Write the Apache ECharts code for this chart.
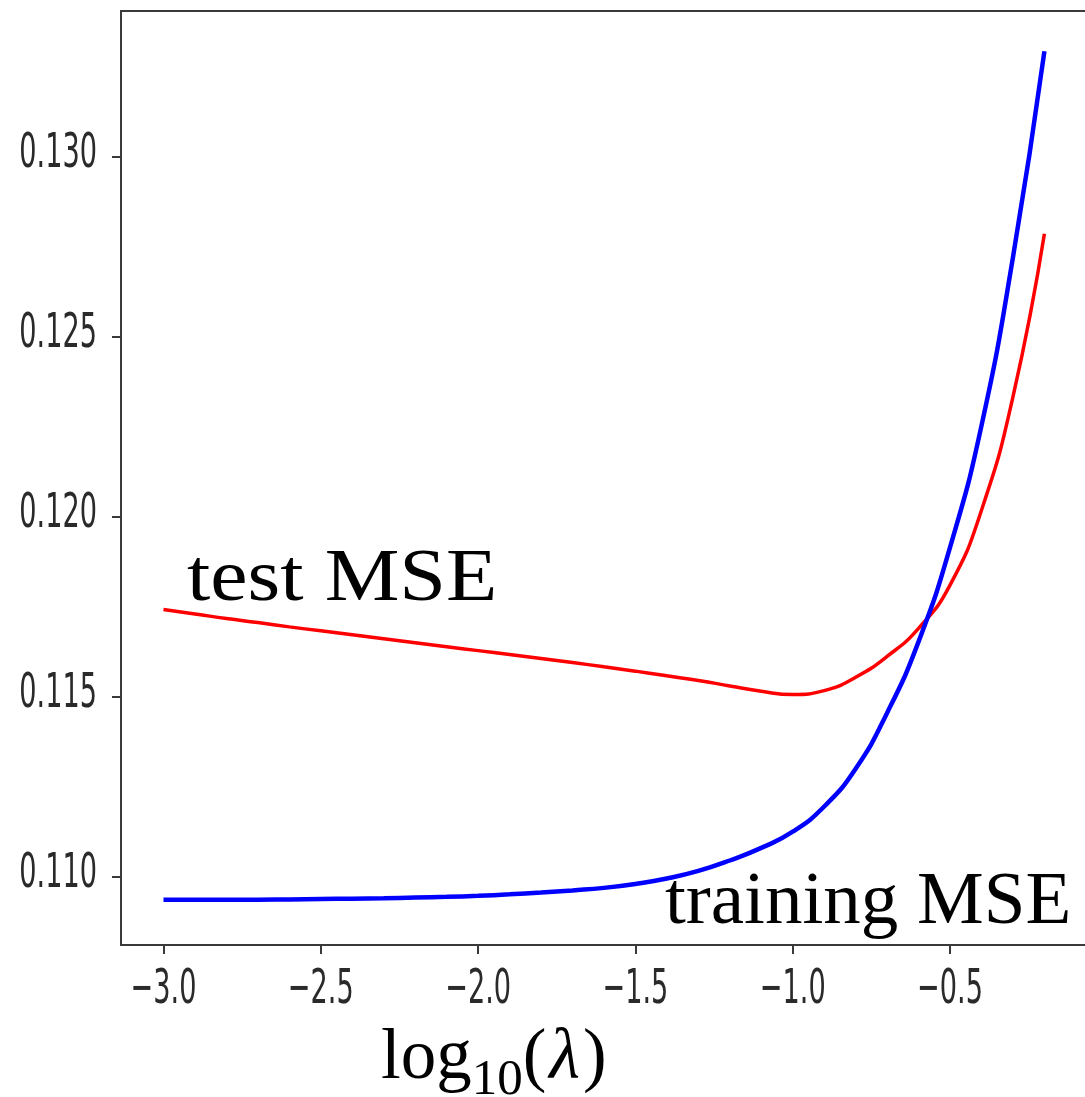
<!DOCTYPE html>
<html>
<head>
<meta charset="utf-8">
<title>Ridge regression: MSE vs regularisation strength</title>
<script src="https://cdn.jsdelivr.net/npm/echarts@6/dist/echarts.min.js"></script>
<style>
  html, body { margin: 0; padding: 0; background: #ffffff; }
  #chart { width: 1085px; height: 1097px; }
</style>
</head>
<body>
<div id="chart"></div>
<script>
// log10(lambda) sample positions
const logLambda = [-3.0, -2.9, -2.8, -2.7, -2.6, -2.5, -2.4, -2.3, -2.2, -2.1,
                   -2.0, -1.9, -1.8, -1.7, -1.6, -1.5, -1.4, -1.3, -1.2, -1.1,
                   -1.0, -0.9, -0.8, -0.7, -0.6, -0.5, -0.4, -0.3, -0.2];

// held-out error
const testMSE = [0.11742, 0.11730, 0.11717, 0.11706, 0.11694, 0.11683, 0.11672, 0.11661, 0.11650, 0.11639,
                 0.11628, 0.11617, 0.11606, 0.11595, 0.11583, 0.11571, 0.11558, 0.11545, 0.11530, 0.11515,
                 0.11506, 0.11517, 0.11554, 0.11612, 0.11690, 0.11810, 0.12018, 0.12333, 0.12786];

// in-sample error
const trainMSE = [0.10936, 0.10936, 0.10936, 0.10936, 0.10937, 0.10938, 0.10939, 0.10940, 0.10942, 0.10944,
                  0.10947, 0.10951, 0.10956, 0.10962, 0.10969, 0.10980, 0.10995, 0.11016, 0.11045, 0.11080,
                  0.11125, 0.11195, 0.11300, 0.11455, 0.11653, 0.11915, 0.12253, 0.12720, 0.13293];

// tick labels
const xTicks = [-3.0, -2.5, -2.0, -1.5, -1.0, -0.5];
const yTicks = [0.110, 0.115, 0.120, 0.125, 0.130];

const seriesNames = ['test MSE', 'training MSE'];

const X_MIN = -3.135, X_MAX = -0.071;
const Y_MIN = 0.108103, Y_MAX = 0.134047;

const pair = (xs, ys) => xs.map((x, i) => [x, ys[i]]);
const minus = s => s.replace('-', '\u2212');

const tickFont = "48px 'DejaVu Sans', sans-serif";
const tickSqueeze = 0.565;          // tick labels use a narrow, tall face
const serifFont = "'Liberation Serif', 'DejaVu Serif', serif";
const spine = '#3a3a3a';

const chart = echarts.init(document.getElementById('chart'), null, { renderer: 'canvas' });

const frameAxis = {
  splitLine: { show: false },
  axisLine: { show: true, onZero: false, lineStyle: { color: spine, width: 2 } }
};

chart.setOption({
  animation: false,
  backgroundColor: '#ffffff',
  grid: { left: 121, right: 0, top: 11, bottom: 152, containLabel: false, outerBoundsMode: 'none' },
  xAxis: [
    Object.assign({
      type: 'value', min: X_MIN, max: X_MAX,
      axisTick: { show: true, length: 9, lineStyle: { color: spine, width: 2 }, customValues: xTicks },
      axisLabel: { show: false }
    }, frameAxis),
    Object.assign({
      // top frame line
      type: 'value', position: 'top', min: X_MIN, max: X_MAX,
      axisTick: { show: false }, axisLabel: { show: false }
    }, frameAxis)
  ],
  yAxis: Object.assign({
    type: 'value', min: Y_MIN, max: Y_MAX,
    axisTick: { show: true, length: 9, lineStyle: { color: spine, width: 2 }, customValues: yTicks },
    axisLabel: { show: false }
  }, frameAxis),
  series: [
    {
      name: seriesNames[0], type: 'line', data: pair(logLambda, testMSE),
      smooth: 0.5, showSymbol: false,
      lineStyle: { color: '#ff0000', width: 3.5 }, z: 2
    },
    {
      name: seriesNames[1], type: 'line', data: pair(logLambda, trainMSE),
      smooth: 0.5, showSymbol: false,
      lineStyle: { color: '#0000ff', width: 4.5 }, z: 3
    }
  ]
});

// Tick labels: placed at the axis positions of each tick value, drawn narrow.
const toPx = (x, y) => chart.convertToPixel({ xAxisIndex: 0, yAxisIndex: 0 }, [x, y]);

const xLabelItems = xTicks.map(v => {
  const p = toPx(v, Y_MIN);
  return {
    type: 'text', x: p[0], y: p[1] + 46, scaleX: tickSqueeze,
    style: { text: minus(v.toFixed(1)), font: tickFont, fill: '#2a2a2a',
             textAlign: 'center', textVerticalAlign: 'middle' }
  };
});

const yLabelItems = yTicks.map(v => {
  const p = toPx(X_MIN, v);
  return {
    type: 'text', x: p[0] - 24, y: p[1] - 2, scaleX: tickSqueeze,
    style: { text: v.toFixed(3), font: tickFont, fill: '#2a2a2a',
             textAlign: 'right', textVerticalAlign: 'middle' }
  };
});

chart.setOption({
  graphic: xLabelItems.concat(yLabelItems, [
    {
      type: 'text', x: 187, y: 618, scaleX: 1.12,
      style: { text: seriesNames[0], font: "75px " + serifFont, fill: '#000',
               textAlign: 'left', textVerticalAlign: 'bottom' }
    },
    {
      type: 'text', x: 665, y: 941,
      style: { text: seriesNames[1], font: "75px " + serifFont, fill: '#000',
               textAlign: 'left', textVerticalAlign: 'bottom' }
    },
    {
      type: 'text', x: 381, y: 1059,
      style: {
        text: '{a|log}{s|10}{a|(}{l|λ}{a|)}',
        textAlign: 'left', textVerticalAlign: 'middle',
        rich: {
          a: { fontFamily: serifFont, fontSize: 71, color: '#000' },
          s: { fontFamily: serifFont, fontSize: 51, color: '#000', padding: [44, 0, 0, 0] },
          l: { fontFamily: serifFont, fontSize: 71, fontStyle: 'italic', color: '#000', padding: [0, 3, 0, 3] }
        }
      }
    }
  ])
});
</script>
</body>
</html>
